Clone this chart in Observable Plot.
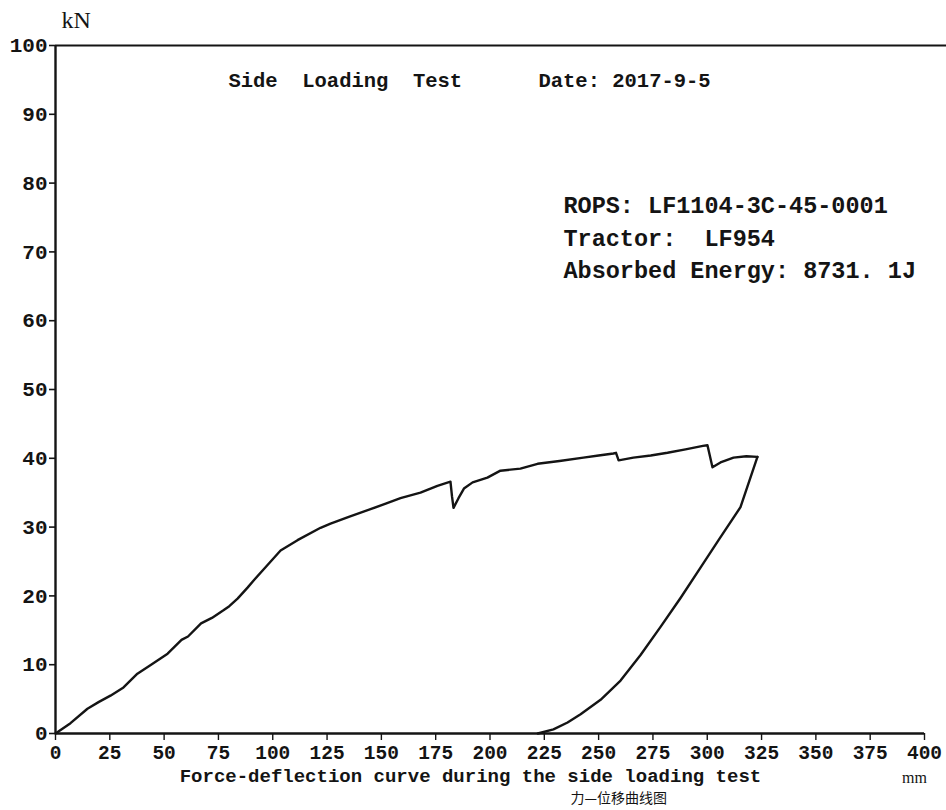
<!DOCTYPE html>
<html>
<head>
<meta charset="utf-8">
<script src="https://cdn.jsdelivr.net/npm/d3@7"></script>
<script src="https://cdn.jsdelivr.net/npm/@observablehq/plot@0.6"></script>
<style>
  html, body { margin: 0; padding: 0; background: #ffffff; }
  #chart { width: 946px; height: 810px; overflow: hidden; }
  svg { display: block; }
</style>
</head>
<body>
<div id="chart"></div>
<script>
// ---- data ----
const loadDeflection = [0, 6.9, 14.7, 20, 25.3, 31.3, 37.7, 44, 51.6, 58, 61, 67, 72, 77.3, 80, 83.8, 88.4, 91.1, 97.6, 103.6, 111.4, 122, 126.6, 135, 145, 152, 158.8, 168, 175.8, 181.8, 182.5, 183.2, 185.5, 188, 192, 198.8, 204.8, 214, 221.9, 232, 243, 250, 256.8, 258, 259.2, 266, 274, 281.7, 290, 298, 300.1, 302.4, 306.1, 312.1, 318, 323.1];
const loadForce      = [0, 1.5, 3.6, 4.6, 5.5, 6.7, 8.7, 10.0, 11.6, 13.6, 14.1, 16.0, 16.8, 17.9, 18.5, 19.6, 21.2, 22.2, 24.5, 26.6, 28.1, 29.9, 30.5, 31.5, 32.6, 33.4, 34.2, 35.0, 36.0, 36.6, 34.5, 32.8, 34.2, 35.6, 36.5, 37.2, 38.2, 38.5, 39.2, 39.6, 40.1, 40.4, 40.7, 40.8, 39.7, 40.1, 40.4, 40.8, 41.3, 41.8, 41.9, 38.7, 39.4, 40.1, 40.3, 40.2];
const unloadDeflection = [323.1, 315.3, 305.2, 296.9, 287.7, 278.5, 269.3, 260.1, 250.9, 241.7, 235.7, 229.2, 222];
const unloadForce      = [40.2, 32.9, 28.1, 24.1, 19.7, 15.5, 11.4, 7.7, 4.9, 2.8, 1.6, 0.6, 0];

const xTicks = [0, 25, 50, 75, 100, 125, 150, 175, 200, 225, 250, 275, 300, 325, 350, 375, 400];
const yTicks = [0, 10, 20, 30, 40, 50, 60, 70, 80, 90, 100];

const titleText = "Side  Loading  Test";
const dateText = "Date: 2017-9-5";
const infoLines = ["ROPS: LF1104-3C-45-0001", "Tractor:  LF954", "Absorbed Energy: 8731. 1J"];
const yUnit = "kN";
const xUnit = "mm";
const captionText = "Force-deflection curve during the side loading test";
const captionCn = "力—位移曲线图";

// ---- build ----
const loading = loadDeflection.map((d, i) => ({d, f: loadForce[i]}));
const unloading = unloadDeflection.map((d, i) => ({d, f: unloadForce[i]}));
const info = infoLines.map((t, i) => ({t, i}));

const mono = "'Liberation Mono', 'DejaVu Sans Mono', monospace";
const ink = "#141414";

const chart = Plot.plot({
  width: 946,
  height: 810,
  marginLeft: 55,
  marginRight: 22,
  marginTop: 45,
  marginBottom: 77,
  style: {background: "#ffffff", color: ink, fontFamily: mono},
  x: {domain: [0, 400]},
  y: {domain: [0, 100]},
  marks: [
    // frame lines
    Plot.ruleY([100], {x1: 0, x2: 412, stroke: ink, strokeWidth: 1.8}),
    Plot.ruleX([0], {stroke: ink, strokeWidth: 2.4}),
    Plot.ruleY([0], {stroke: ink, strokeWidth: 2.6}),
    // axes
    Plot.axisY({ticks: yTicks, tickSize: 6, tickPadding: 2, tickFormat: d => String(d), fontSize: 21, fontWeight: 600, label: null, stroke: ink, strokeWidth: 1.6}),
    Plot.axisX({ticks: xTicks, tickSize: 7, tickPadding: 5, tickFormat: d => String(d), fontSize: 19.5, fontWeight: 600, label: null, stroke: ink, strokeWidth: 1.4}),
    // curves
    Plot.line(loading, {x: "d", y: "f", stroke: ink, strokeWidth: 2.4, strokeLinejoin: "round"}),
    Plot.line(unloading, {x: "d", y: "f", stroke: ink, strokeWidth: 2.4, strokeLinejoin: "round"}),
    // texts
    Plot.text([yUnit], {x: 0, y: 100, text: d => d, dx: 6, dy: -25, textAnchor: "start", fontSize: 24, fontFamily: "'Liberation Serif', serif", fill: ink}),
    Plot.text([titleText], {x: 79.6, y: 94.9, text: d => d, textAnchor: "start", fontSize: 20.5, fontWeight: 600, fill: ink}),
    Plot.text([dateText], {x: 222.3, y: 94.9, text: d => d, textAnchor: "start", fontSize: 20.5, fontWeight: 600, fill: ink}),
    Plot.text(info, {x: 233.8, y: d => 76.7 - d.i * 4.7, text: "t", textAnchor: "start", fontSize: 23.5, fontWeight: 600, fill: ink}),
    Plot.text([xUnit], {x: 400, y: 0, text: d => d, dx: -10, dy: 44, textAnchor: "middle", fontSize: 16, fontFamily: "'Liberation Serif', serif", fill: ink}),
    Plot.text([captionText], {x: 191, y: 0, text: d => d, dy: 42, textAnchor: "middle", fontSize: 19, fontWeight: 600, fill: ink}),
    Plot.text([captionCn], {x: 237, y: 0, text: d => d, dy: 65, textAnchor: "start", fontSize: 14, fontFamily: "'Noto Sans CJK SC', sans-serif", fill: ink})
  ]
});

document.getElementById("chart").appendChild(chart);
</script>
</body>
</html>
